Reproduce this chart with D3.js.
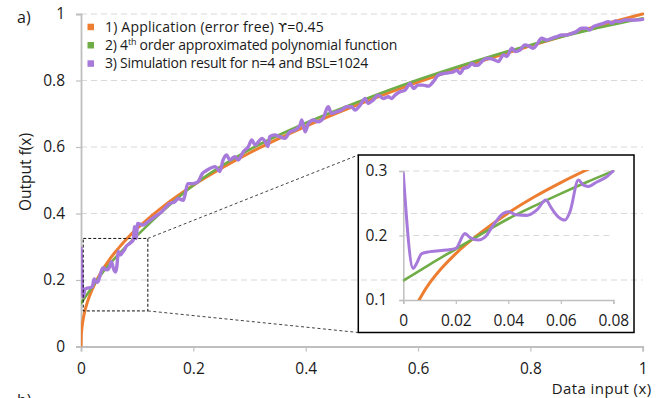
<!DOCTYPE html>
<html><head><meta charset="utf-8">
<script src="https://cdn.jsdelivr.net/npm/d3@7"></script>
<style>
html,body{margin:0;padding:0;background:#fff;overflow:hidden;}
svg{display:block;font-family:"Open Sans",Lato,sans-serif;}
</style></head><body>
<svg id="chart" width="666" height="398"></svg>
<script>
// ---- data ----
const axisTicks = [0, 0.2, 0.4, 0.6, 0.8, 1];
const insetXTicks = [0, 0.02, 0.04, 0.06, 0.08];
const insetYTicks = [0.1, 0.2, 0.3];
const legendLabels = ["1) Application (error free) \u03D2=0.45", "2) 4th order approximated polynomial function", "3) Simulation result for n=4 and BSL=1024"];
const seriesColors = ["#ED7D31", "#70AD47", "#A679DA"];

const appX = [0,0.0005,0.001,0.002,0.003,0.005,0.0075,0.01,0.015,0.02,0.03,0.04,0.05,0.06,0.07,0.08,0.1,0.125,0.15,0.2,0.25,0.3,0.35,0.4,0.45,0.5,0.6,0.7,0.8,0.9,1];
const appY = [0,0.0327,0.0447,0.061,0.0732,0.0922,0.1106,0.126,0.151,0.172,0.206,0.235,0.26,0.282,0.302,0.321,0.355,0.392,0.426,0.485,0.536,0.582,0.6235,0.662,0.698,0.732,0.795,0.852,0.904,0.954,1];

const polyX = [0,0.01,0.02,0.03,0.04,0.05,0.06,0.07,0.08,0.1,0.15,0.2,0.3,0.4,0.5,0.6,0.7,0.8,0.9,1];
const polyY = [0.13,0.155,0.179,0.203,0.226,0.246,0.265,0.283,0.3,0.334,0.414,0.485,0.592,0.672,0.74,0.802,0.857,0.907,0.95,0.987];

const simX = [0,0.0038,0.0051,0.007,0.0102,0.0165,0.02,0.0235,0.0254,0.0286,0.031,0.0343,0.038,0.04,0.043,0.047,0.051,0.0543,0.0565,0.059,0.0616,0.0635,0.0667,0.0686,0.0705,0.0737,0.0775,0.08,
0.087,0.093,0.0955,0.098,0.101,0.11,0.119,0.131,0.14,0.149,0.158,0.167,0.173,0.182,0.185,0.19,0.199,0.208,0.216,0.224,0.239,0.247,0.253,0.259,0.265,0.274,0.28,0.289,0.298,0.304,0.31,0.316,0.322,0.328,0.333,0.336,0.345,0.354,0.363,0.372,0.381,0.39,0.393,0.399,0.405,0.414,0.422,0.431,0.44,0.446,0.455,0.464,0.473,0.482,0.488,0.497,0.506,0.511,0.52,0.529,0.538,0.547,0.553,0.559,0.568,0.577,0.586,0.592,0.6,0.609,0.618,0.627,0.636,0.645,0.654,0.663,0.669,0.675,0.681,0.69,0.696,0.701,0.707,0.713,0.722,0.728,0.736,0.743,0.752,0.758,0.767,0.773,0.782,0.79,0.799,0.805,0.811,0.82,0.829,0.838,0.847,0.856,0.865,0.874,0.882,0.891,0.9,0.906,0.912,0.921,0.93,0.939,0.945,0.951,0.96,0.968,0.977,0.989,1];
const simY = [0.296,0.149,0.157,0.172,0.175,0.1775,0.18,0.203,0.197,0.193,0.197,0.216,0.234,0.237,0.232,0.231,0.24,0.255,0.242,0.229,0.224,0.237,0.286,0.278,0.276,0.283,0.291,0.3,
0.31,0.32,0.36,0.325,0.37,0.365,0.375,0.39,0.4,0.415,0.43,0.435,0.445,0.44,0.455,0.49,0.49,0.495,0.52,0.53,0.541,0.526,0.561,0.576,0.561,0.571,0.561,0.586,0.601,0.621,0.606,0.616,0.626,0.616,0.601,0.631,0.636,0.631,0.626,0.646,0.651,0.666,0.681,0.646,0.671,0.681,0.676,0.686,0.721,0.701,0.706,0.711,0.721,0.721,0.711,0.726,0.746,0.731,0.741,0.756,0.746,0.751,0.746,0.756,0.766,0.771,0.791,0.776,0.786,0.786,0.783,0.796,0.816,0.821,0.823,0.826,0.831,0.821,0.836,0.841,0.851,0.846,0.846,0.856,0.866,0.866,0.862,0.857,0.877,0.872,0.897,0.887,0.892,0.907,0.902,0.897,0.907,0.927,0.922,0.927,0.932,0.937,0.937,0.942,0.947,0.957,0.957,0.952,0.962,0.967,0.972,0.977,0.972,0.979,0.977,0.982,0.982,0.982,0.984];

// zoom window shown in the inset (data units of the main chart)
const zoomBoxX = [0.004, 0.119];
const zoomBoxY = [0.107, 0.325];

// ---- drawing ----
const svg = d3.select("#chart");
const grid = "#D9D9D9", axisCol = "#BFBFBF", textCol = "#1a1a1a";
const FONT = "Open Sans";
const x = d3.scaleLinear().domain([0,1]).range([81,642.7]);
const y = d3.scaleLinear().domain([0,1]).range([346.5,14]);
const zip = (a,b) => a.map((v,i)=>[v,b[i]]);
const series = [zip(appX,appY), zip(polyX,polyY), zip(simX,simY)];
const widths = [3,2.6,3.4];

// gridlines
svg.append("g").selectAll("line").data(axisTicks.filter(d=>d>0)).join("line")
  .attr("x1",x(0)).attr("x2",x(1)).attr("y1",d=>y(d)).attr("y2",d=>y(d))
  .attr("stroke",grid).attr("stroke-width",1.2).attr("stroke-dasharray","6,4");

// axes
const xAxis = svg.append("g").attr("transform",`translate(0,${y(0)})`)
  .call(d3.axisBottom(x).tickValues(axisTicks).tickFormat(d3.format("~g")).tickSize(5).tickPadding(11));
const yAxis = svg.append("g").attr("transform",`translate(${x(0)},0)`)
  .call(d3.axisLeft(y).tickValues(axisTicks).tickFormat(d3.format("~g")).tickSize(5).tickPadding(11));
[xAxis,yAxis].forEach(g=>{
  g.select(".domain").attr("stroke",axisCol).attr("stroke-width",1.8);
  g.selectAll(".tick line").attr("stroke",axisCol).attr("stroke-width",1.2);
  g.selectAll("text").attr("fill",textCol).style("font-size","15.5px").style("font-family",FONT);
});

// main curves
svg.append("clipPath").attr("id","cm").append("rect")
  .attr("x",x(0)).attr("y",y(1)-3).attr("width",x(1)-x(0)+3).attr("height",y(0)-y(1)+3);
const lineMain = d3.line().x(d=>x(d[0])).y(d=>y(d[1])).curve(d3.curveMonotoneX);
svg.append("g").attr("clip-path","url(#cm)").selectAll("path").data(series).join("path")
  .attr("d",lineMain).attr("fill","none")
  .attr("stroke",(d,i)=>seriesColors[i]).attr("stroke-width",(d,i)=>widths[i])
  .attr("stroke-linejoin","round").attr("stroke-linecap","round");

// inset
const ix = d3.scaleLinear().domain([0,0.08]).range([403.3,613.3]);
const iy = d3.scaleLinear().domain([0.1,0.3]).range([300,171]);
const insetBox = {x0:358.3, y0:155, x1:634, y1:332.5};

// zoom box and connectors
svg.append("rect").attr("x",x(zoomBoxX[0])).attr("y",y(zoomBoxY[1]))
  .attr("width",x(zoomBoxX[1])-x(zoomBoxX[0])).attr("height",y(zoomBoxY[0])-y(zoomBoxY[1]))
  .attr("fill","none").attr("stroke","#111").attr("stroke-width",1).attr("stroke-dasharray","3,2");
svg.append("line").attr("x1",x(zoomBoxX[1])).attr("y1",y(zoomBoxY[1])).attr("x2",insetBox.x0).attr("y2",insetBox.y0)
  .attr("stroke","#444").attr("stroke-width",1).attr("stroke-dasharray","3,2.5");
svg.append("line").attr("x1",x(zoomBoxX[1])).attr("y1",y(zoomBoxY[0])).attr("x2",insetBox.x0).attr("y2",insetBox.y1)
  .attr("stroke","#444").attr("stroke-width",1).attr("stroke-dasharray","3,2.5");

svg.append("rect").attr("x",insetBox.x0).attr("y",insetBox.y0)
  .attr("width",insetBox.x1-insetBox.x0).attr("height",insetBox.y1-insetBox.y0)
  .attr("fill","none").attr("stroke","#000").attr("stroke-width",1.5);

svg.append("g").selectAll("line").data(insetYTicks.filter(d=>d>0.1)).join("line")
  .attr("x1",ix(0)).attr("x2",ix(0.08)).attr("y1",d=>iy(d)).attr("y2",d=>iy(d))
  .attr("stroke",grid).attr("stroke-width",1.2).attr("stroke-dasharray","6,4");
const ixAxis = svg.append("g").attr("transform",`translate(0,${iy(0.1)})`)
  .call(d3.axisBottom(ix).tickValues(insetXTicks).tickFormat(d3.format("~g")).tickSize(4).tickPadding(10.5));
const iyAxis = svg.append("g").attr("transform",`translate(${ix(0)},0)`)
  .call(d3.axisLeft(iy).tickValues(insetYTicks).tickFormat(d3.format("~g")).tickSize(4).tickPadding(12));
[ixAxis,iyAxis].forEach(g=>{
  g.select(".domain").attr("stroke",axisCol).attr("stroke-width",1.5);
  g.selectAll(".tick line").attr("stroke",axisCol).attr("stroke-width",1.2);
  g.selectAll("text").attr("fill",textCol).style("font-size","15.5px").style("font-family",FONT);
});
svg.append("clipPath").attr("id","ci").append("rect")
  .attr("x",ix(0)).attr("y",iy(0.3)-1).attr("width",ix(0.08)-ix(0)+1).attr("height",iy(0.1)-iy(0.3)+1);
const lineInset = d3.line().x(d=>ix(d[0])).y(d=>iy(d[1])).curve(d3.curveMonotoneX);
svg.append("g").attr("clip-path","url(#ci)").selectAll("path")
  .data(series.map(s=>s.filter(p=>p[0]<=0.1))).join("path")
  .attr("d",lineInset).attr("fill","none")
  .attr("stroke",(d,i)=>seriesColors[i]).attr("stroke-width",(d,i)=>[3,2.6,3][i])
  .attr("stroke-linejoin","round").attr("stroke-linecap","round");

// legend
const legendWidths = [219, 292, 263];
const leg = svg.append("g");
const legTexts = [];
legendLabels.forEach((t,i)=>{
  const yy = 27 + i*18.3;
  leg.append("rect").attr("x",87.5).attr("y",yy-3.3).attr("width",6.5).attr("height",6.5).attr("fill",seriesColors[i]);
  const tx = leg.append("text").attr("x",105).attr("y",yy+4.8).attr("fill",textCol)
    .style("font-size","14px").style("font-family",FONT);
  if (i===1) {
    tx.append("tspan").text("2) 4");
    tx.append("tspan").text("th").attr("dy",-5).style("font-size","9px");
    tx.append("tspan").text(" order approximated polynomial function").attr("dy",5);
  } else if (i===0) {
    tx.append("tspan").text(t.slice(0, t.indexOf("\u03D2")));
    tx.append("tspan").text("\u03D2").style("font-family","DejaVu Sans").style("font-size","13px");
    tx.append("tspan").text(t.slice(t.indexOf("\u03D2")+1));
  } else tx.text(t);
  legTexts.push(tx);
});
function fitLegend(){
  legTexts.forEach((tx,i)=>{
    tx.style("letter-spacing","0px");
    const w = tx.node().getComputedTextLength();
    const n = legendLabels[i].length;
    tx.style("letter-spacing", ((legendWidths[i]-w)/n) + "px");
  });
}
fitLegend();
if (document.fonts && document.fonts.ready) document.fonts.ready.then(fitLegend);

// titles
svg.append("text").attr("x",17).attr("y",23).text("a)").attr("fill",textCol).style("font-size","16px");
svg.append("text").attr("x",17).attr("y",406).text("b)").attr("fill",textCol).style("font-size","16px");
svg.append("text").attr("x",651.5).attr("y",394).attr("text-anchor","end").text("Data input (x)")
  .attr("fill",textCol).style("font-size","15px").style("letter-spacing","0.4px");
svg.append("text").attr("transform","translate(31,172) rotate(-90)").attr("text-anchor","middle")
  .text("Output f(x)").attr("fill",textCol).style("font-size","15.5px");
</script>
</body></html>
